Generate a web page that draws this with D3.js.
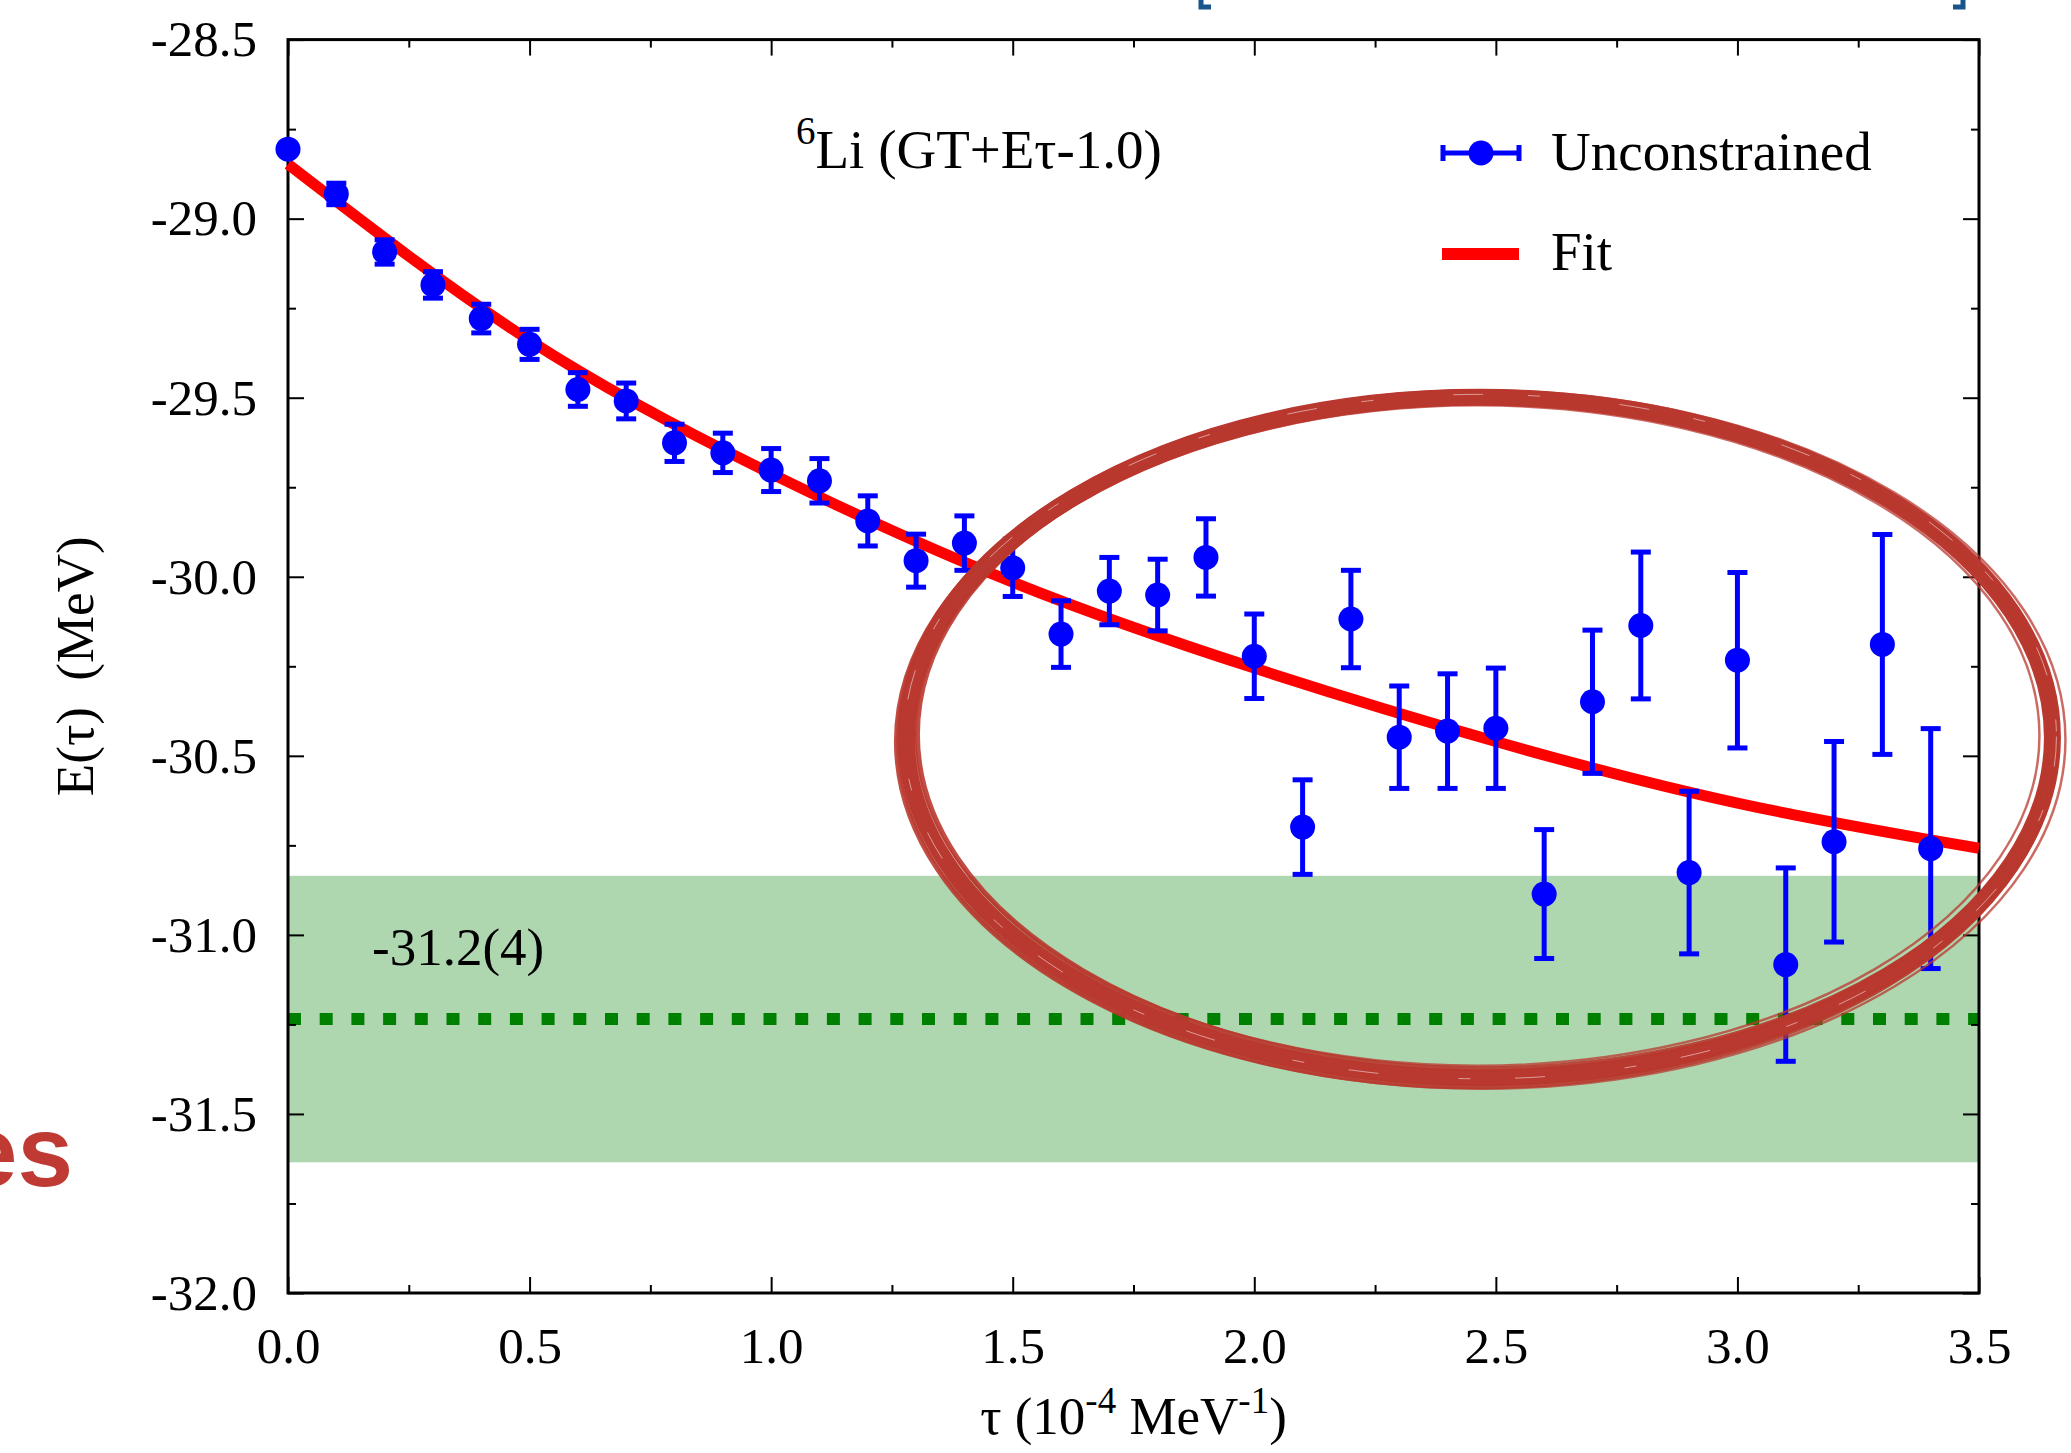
<!DOCTYPE html>
<html><head><meta charset="utf-8">
<script src="https://cdn.jsdelivr.net/npm/d3@7"></script>
<style>
body{margin:0;background:#fff;}
svg{display:block;}
text{font-family:"Liberation Serif","DejaVu Serif",serif;white-space:pre;}
</style>
</head><body>
<svg id="c" width="2071" height="1453"></svg>
<script>
// ---------------- data ----------------
const tau = [0.0,0.1,0.2,0.3,0.4,0.5,0.6,0.7,0.8,0.9,1.0,1.1,1.2,1.3,1.4,1.5,1.6,1.7,1.8,1.9,2.0,2.1,2.2,2.3,2.4,2.5,2.6,2.7,2.8,2.9,3.0,3.1,3.2,3.3,3.4];
const energy = [-28.806,-28.931,-29.093,-29.185,-29.279,-29.351,-29.477,-29.509,-29.626,-29.654,-29.702,-29.732,-29.844,-29.955,-29.906,-29.975,-30.160,-30.040,-30.051,-29.946,-30.222,-30.699,-30.118,-30.448,-30.431,-30.423,-30.886,-30.349,-30.136,-30.826,-30.233,-31.083,-30.740,-30.189,-30.759];
const energyErr = [0.006,0.030,0.034,0.037,0.040,0.042,0.047,0.050,0.052,0.055,0.060,0.062,0.070,0.074,0.076,0.080,0.093,0.094,0.100,0.108,0.118,0.132,0.136,0.143,0.160,0.168,0.180,0.200,0.205,0.227,0.245,0.270,0.280,0.307,0.335];
const fitTau = [0.0,0.5,1.0,1.5,2.0,2.5,3.0,3.5];
const fitE = [-28.848,-29.340,-29.712,-30.015,-30.255,-30.460,-30.632,-30.758];
const extrapValue = -31.235, extrapErr = 0.40;
const extrapLabel = "-31.2(4)";
const xTicks = [0.0,0.5,1.0,1.5,2.0,2.5,3.0,3.5];
const xTickLabels = ["0.0","0.5","1.0","1.5","2.0","2.5","3.0","3.5"];
const xMinor = [0.25,0.75,1.25,1.75,2.25,2.75,3.25];
const yTicks = [-32.0,-31.5,-31.0,-30.5,-30.0,-29.5,-29.0,-28.5];
const yTickLabels = ["-32.0","-31.5","-31.0","-30.5","-30.0","-29.5","-29.0","-28.5"];
const yMinor = [-31.75,-31.25,-30.75,-30.25,-29.75,-29.25,-28.75];
const xDomain = [0, 3.5], yDomain = [-32.0, -28.5];
const legendLabels = ["Unconstrained","Fit"];
// highlight ellipse (data units): centre tau, centre E, radius tau, radius E
const ring = {ct: 2.466, ce: -30.449, rt: 1.186, re: 0.950};

// ---------------- layout ----------------
const X0 = 288, X1 = 1979, Y0 = 1293, Y1 = 39.6;
const FONT = '"Liberation Serif","DejaVu Serif",serif';
const BLUE = "#0000ff", RED = "#ff0000", DGREEN = "#008000";

const svg = d3.select("#c");
const x = d3.scaleLinear().domain(xDomain).range([X0, X1]);
const y = d3.scaleLinear().domain(yDomain).range([Y0, Y1]);

// green band
svg.append("rect")
  .attr("x", x(xDomain[0])).attr("width", x(xDomain[1]) - x(xDomain[0]))
  .attr("y", y(extrapValue + extrapErr))
  .attr("height", y(extrapValue - extrapErr) - y(extrapValue + extrapErr))
  .attr("fill", "#aed7af");

// dotted central line
svg.append("line")
  .attr("x1", x(xDomain[0])).attr("x2", x(xDomain[1]))
  .attr("y1", y(extrapValue)).attr("y2", y(extrapValue))
  .attr("stroke", DGREEN).attr("stroke-width", 12)
  .attr("stroke-dasharray", "13,18.7");

svg.append("text").attr("x", 372).attr("y", 965)
  .attr("font-size", 53).text(extrapLabel);

// axes
function styleAxis(g){
  g.select(".domain").remove();
  g.selectAll(".tick line").attr("stroke", "#000").attr("stroke-width", 2);
  g.selectAll(".tick text").attr("font-size", 51).attr("font-family", FONT).attr("fill", "#000");
}
svg.append("g").attr("transform", `translate(${X0},0)`)
  .call(d3.axisLeft(y).tickValues(yTicks).tickSize(-16).tickPadding(31).tickFormat((d,i)=>yTickLabels[i]))
  .call(styleAxis);
svg.append("g").attr("transform", `translate(${X0},0)`)
  .call(d3.axisLeft(y).tickValues(yMinor).tickSize(-8).tickFormat(""))
  .call(styleAxis);
svg.append("g").attr("transform", `translate(${X1},0)`)
  .call(d3.axisRight(y).tickValues(yTicks).tickSize(-16).tickFormat(""))
  .call(styleAxis);
svg.append("g").attr("transform", `translate(${X1},0)`)
  .call(d3.axisRight(y).tickValues(yMinor).tickSize(-8).tickFormat(""))
  .call(styleAxis);
svg.append("g").attr("transform", `translate(0,${Y0})`)
  .call(d3.axisBottom(x).tickValues(xTicks).tickSize(-16).tickPadding(34).tickFormat((d,i)=>xTickLabels[i]))
  .call(styleAxis);
svg.append("g").attr("transform", `translate(0,${Y0})`)
  .call(d3.axisBottom(x).tickValues(xMinor).tickSize(-8).tickFormat(""))
  .call(styleAxis);
svg.append("g").attr("transform", `translate(0,${Y1})`)
  .call(d3.axisTop(x).tickValues(xTicks).tickSize(-16).tickFormat(""))
  .call(styleAxis);
svg.append("g").attr("transform", `translate(0,${Y1})`)
  .call(d3.axisTop(x).tickValues(xMinor).tickSize(-8).tickFormat(""))
  .call(styleAxis);
svg.append("rect").attr("x", X0).attr("y", Y1).attr("width", X1 - X0).attr("height", Y0 - Y1)
  .attr("fill", "none").attr("stroke", "#000").attr("stroke-width", 3);

// axis titles
const xt = svg.append("text").attr("x", (X0 + X1) / 2).attr("y", 1434)
  .attr("text-anchor", "middle").attr("font-size", 53);
xt.append("tspan").text("τ (10");
xt.append("tspan").attr("dy", -21).attr("font-size", 37).text("-4");
xt.append("tspan").attr("dy", 21).text(" MeV");
xt.append("tspan").attr("dy", -21).attr("font-size", 37).text("-1");
xt.append("tspan").attr("dy", 21).text(")");

svg.append("text").attr("transform", `translate(93,${(Y0 + Y1) / 2}) rotate(-90)`)
  .attr("text-anchor", "middle").attr("font-size", 53).text("E(τ)  (MeV)");

// fit curve
svg.append("path")
  .datum(fitTau.map((t, i) => [t, fitE[i]]))
  .attr("d", d3.line().x(d => x(d[0])).y(d => y(d[1])).curve(d3.curveNatural))
  .attr("fill", "none").attr("stroke", RED).attr("stroke-width", 11);

// error bars and points
const pts = tau.map((t, i) => ({t, e: energy[i], s: energyErr[i]}));
const gp = svg.append("g");
gp.selectAll("line.eb").data(pts).join("line").attr("class", "eb")
  .attr("x1", d => x(d.t)).attr("x2", d => x(d.t))
  .attr("y1", d => y(d.e + d.s)).attr("y2", d => y(d.e - d.s))
  .attr("stroke", BLUE).attr("stroke-width", 5);
gp.selectAll("line.ct").data(pts).join("line").attr("class", "ct")
  .attr("x1", d => x(d.t) - 10).attr("x2", d => x(d.t) + 10)
  .attr("y1", d => y(d.e + d.s)).attr("y2", d => y(d.e + d.s))
  .attr("stroke", BLUE).attr("stroke-width", 5);
gp.selectAll("line.cb").data(pts).join("line").attr("class", "cb")
  .attr("x1", d => x(d.t) - 10).attr("x2", d => x(d.t) + 10)
  .attr("y1", d => y(d.e - d.s)).attr("y2", d => y(d.e - d.s))
  .attr("stroke", BLUE).attr("stroke-width", 5);
gp.selectAll("circle").data(pts).join("circle")
  .attr("cx", d => x(d.t)).attr("cy", d => y(d.e)).attr("r", 12.5).attr("fill", BLUE);

// annotation
const an = svg.append("text").attr("x", 796).attr("y", 168).attr("font-size", 55);
an.append("tspan").attr("font-size", 39).attr("dy", -24).text("6");
an.append("tspan").attr("dy", 24).text("Li (GT+Eτ-1.0)");

// legend
const lg = svg.append("g");
lg.append("line").attr("x1", 1443).attr("x2", 1519).attr("y1", 153).attr("y2", 153).attr("stroke", BLUE).attr("stroke-width", 5);
lg.append("line").attr("x1", 1443).attr("x2", 1443).attr("y1", 145).attr("y2", 161).attr("stroke", BLUE).attr("stroke-width", 5);
lg.append("line").attr("x1", 1519).attr("x2", 1519).attr("y1", 145).attr("y2", 161).attr("stroke", BLUE).attr("stroke-width", 5);
lg.append("circle").attr("cx", 1481).attr("cy", 153).attr("r", 12.5).attr("fill", BLUE);
lg.append("text").attr("x", 1551).attr("y", 170).attr("font-size", 55).text(legendLabels[0]);
lg.append("line").attr("x1", 1442).attr("x2", 1519).attr("y1", 254).attr("y2", 254).attr("stroke", RED).attr("stroke-width", 12);
lg.append("text").attr("x", 1551).attr("y", 270).attr("font-size", 55).text(legendLabels[1]);

// hand-drawn highlight ellipse
const RING = "#b9382f";
const cxp = x(ring.ct), cyp = y(ring.ce);
const rxp = x(ring.ct + ring.rt) - x(ring.ct), ryp = y(ring.ce) - y(ring.ce + ring.re);
const strokes = [
  {dx:0, dy:0, drx:0, dry:0, w:17, o:1},
  {dx:-3, dy:4, drx:7, dry:5, w:5, o:0.9},
  {dx:4, dy:-3, drx:-7, dry:-6, w:5, o:0.9},
  {dx:2, dy:2, drx:11, dry:9, w:2.5, o:0.75},
  {dx:-2, dy:-2, drx:-11, dry:-10, w:2.5, o:0.75}
];
const gr = svg.append("g");
gr.selectAll("ellipse").data(strokes).join("ellipse")
  .attr("cx", d => cxp + d.dx).attr("cy", d => cyp + d.dy)
  .attr("rx", d => rxp + d.drx).attr("ry", d => ryp + d.dry)
  .attr("fill", "none").attr("stroke", RING).attr("stroke-width", d => d.w).attr("opacity", d => d.o);
gr.append("ellipse").attr("cx", cxp + 1).attr("cy", cyp - 1).attr("rx", rxp + 3).attr("ry", ryp + 2)
  .attr("fill", "none").attr("stroke", "#fff").attr("stroke-width", 1)
  .attr("stroke-dasharray", "30,45,12,80").attr("opacity", 0.5);

// slide remnants
svg.append("text").attr("x", 73).attr("y", 1186).attr("text-anchor", "end")
  .attr("font-weight", "bold")
  .attr("font-size", 100).attr("fill", "#be3a32").style("font-family", '"Liberation Sans",Arial,sans-serif').text("es");
const BR = "#17558c";
svg.append("path").attr("d", "M1201,0 V7 H1211").attr("fill", "none").attr("stroke", BR).attr("stroke-width", 5);
svg.append("path").attr("d", "M1963,0 V7 H1953").attr("fill", "none").attr("stroke", BR).attr("stroke-width", 5);
</script>
</body></html>
